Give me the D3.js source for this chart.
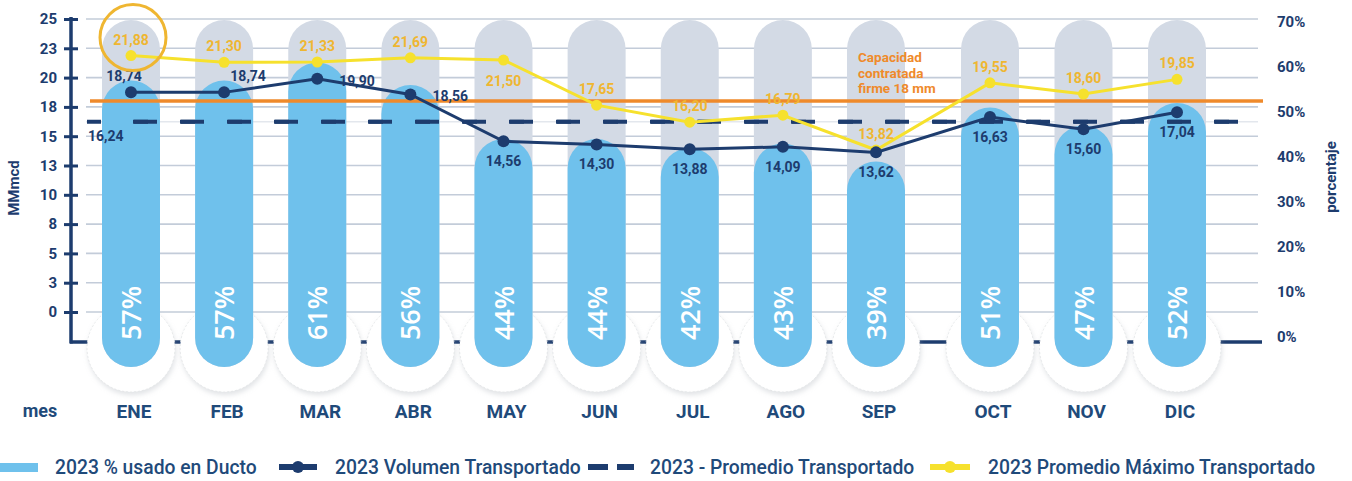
<!DOCTYPE html>
<html>
<head>
<meta charset="utf-8">
<script src="https://cdn.jsdelivr.net/npm/d3@7"></script>
<style>
body{margin:0;background:#fff;}
svg text{font-family:Roboto,"DejaVu Sans",sans-serif;}
</style>
</head>
<body>
<script>
//DATA
var months=["ENE","FEB","MAR","ABR","MAY","JUN","JUL","AGO","SEP","OCT","NOV","DIC"];
var usedPct=[57,57,61,56,44,44,42,43,39,51,47,52];
var volume=[18.74,18.74,19.90,18.56,14.56,14.30,13.88,14.09,13.62,16.63,15.60,17.04];
var maxVolume=[21.88,21.30,21.33,21.69,21.50,17.65,16.20,16.79,13.82,19.55,18.60,19.85];
var avgVolume=16.24;
var capacity=18;
var leftTicks=[0,2.5,5,7.5,10,12.5,15,17.5,20,22.5,25];
var leftTickLabels=["0","3","5","8","10","13","15","18","20","23","25"];
var rightTicks=[0,10,20,30,40,50,60,70];
var legendLabels=["2023 % usado en Ducto","2023 Volumen Transportado","2023 - Promedio Transportado","2023 Promedio Máximo Transportado"];

//label placement (t=above, b=below, r=right)
var volLabelSide=["tl","tr","r","r","b","b","b","b","b","b","b","b"];
var maxLabelSide=["t","t","t","t","b","t","t","t","t","t","t","t"];

var W=1352,H=481;
var navy="#1d3c6e", orange="#ef8a2b", yellow="#f6e12d", gold="#efb631", blue="#6fc1ec", grey="#d3dae5";

var svg=d3.select("body").append("svg").attr("width",W).attr("height",H);

var defs=svg.append("defs");
var f=defs.append("filter").attr("id","shadow").attr("x","-30%").attr("y","-30%").attr("width","160%").attr("height","160%");
f.append("feDropShadow").attr("dx",1).attr("dy",3).attr("stdDeviation",2.5).attr("flood-color","#aab1b8").attr("flood-opacity",0.35);

//SCALES
var x=d3.scaleLinear().domain([0,8,9,11]).range([131,876,990,1177]);
var yL=d3.scaleLinear().domain([0,25]).range([312,19]);
var yR=d3.scaleLinear().domain([0,70]).range([337,22]);
var barW=58, barBottom=367, axisY=342;

//GRIDLINES
svg.append("g").selectAll("line").data(leftTicks).enter().append("line")
	.attr("x1",86).attr("x2",1258)
	.attr("y1",function(d){return yL(d);}).attr("y2",function(d){return yL(d);})
	.attr("stroke","#c3ccd9").attr("stroke-width",1.6);
svg.append("line").attr("x1",86).attr("x2",1258).attr("y1",yL(avgVolume)).attr("y2",yL(avgVolume))
	.attr("stroke","#e3e7ed").attr("stroke-width",1.5);

//BOTTOM AXIS LINE
svg.append("line").attr("x1",70).attr("x2",1262).attr("y1",axisY).attr("y2",axisY)
	.attr("stroke",navy).attr("stroke-width",3.5);

//BUBBLES AT BAR FOOT
svg.append("g").selectAll("circle").data(months).enter().append("circle")
	.attr("cx",function(d,i){return x(i);}).attr("cy",348).attr("r",44)
	.attr("fill","#fff").attr("stroke","#e2e4e6").attr("stroke-width",0.8).attr("stroke-dasharray","2,2")
	.attr("filter","url(#shadow)");

//GREY PILLS
svg.append("g").selectAll("rect").data(months).enter().append("rect")
	.attr("x",function(d,i){return x(i)-barW/2;}).attr("y",20)
	.attr("width",barW).attr("height",barBottom-20).attr("rx",barW/2)
	.attr("fill",grey);

//BLUE BARS
svg.append("g").selectAll("rect").data(usedPct).enter().append("rect")
	.attr("x",function(d,i){return x(i)-barW/2;}).attr("y",function(d){return yR(d);})
	.attr("width",barW).attr("height",function(d){return barBottom-yR(d);}).attr("rx",barW/2)
	.attr("fill",blue);

svg.append("g").selectAll("text").data(usedPct).enter().append("text")
	.attr("transform",function(d,i){return "translate("+(x(i)+10)+",313) rotate(-90)";})
	.attr("text-anchor","middle")
	.style("font-family","'Open Sans',sans-serif").style("font-weight",600).style("font-size","27px")
	.attr("fill","#fff")
	.text(function(d){return d+"%";});

//AVERAGE DASHED LINE
svg.append("line").attr("x1",87).attr("x2",1258).attr("y1",yL(avgVolume)).attr("y2",yL(avgVolume))
	.attr("stroke",navy).attr("stroke-width",4).attr("stroke-dasharray","14,33");
svg.append("line").attr("x1",133).attr("x2",1258).attr("y1",yL(avgVolume)).attr("y2",yL(avgVolume))
	.attr("stroke",navy).attr("stroke-width",4).attr("stroke-dasharray","24,23");
svg.append("text").attr("x",88).attr("y",yL(avgVolume)+19)
	.style("font-weight",700).style("font-size","14px").attr("fill",navy)
	.text(d3.format(".2f")(avgVolume).replace(".",","));

//CAPACITY LINE
svg.append("line").attr("x1",90).attr("x2",1263).attr("y1",yL(capacity)).attr("y2",yL(capacity))
	.attr("stroke",orange).attr("stroke-width",3.5);
var cap=svg.append("text").style("font-weight",700).style("font-size","13.5px").attr("fill",orange);
cap.append("tspan").attr("x",858).attr("y",62).text("Capacidad");
cap.append("tspan").attr("x",858).attr("dy",15.5).text("contratada");
cap.append("tspan").attr("x",858).attr("dy",15.5).text("firme "+capacity+" mm");

//LINES
var line=d3.line().x(function(d,i){return x(i);}).y(function(d){return yL(d);});

svg.append("path").datum(maxVolume).attr("d",line).attr("fill","none")
	.attr("stroke",yellow).attr("stroke-width",3);
svg.append("g").selectAll("circle").data(maxVolume).enter().append("circle")
	.attr("cx",function(d,i){return x(i);}).attr("cy",function(d){return yL(d);}).attr("r",5.5)
	.attr("fill",yellow);

svg.append("path").datum(volume).attr("d",line).attr("fill","none")
	.attr("stroke",navy).attr("stroke-width",3);
svg.append("g").selectAll("circle").data(volume).enter().append("circle")
	.attr("cx",function(d,i){return x(i);}).attr("cy",function(d){return yL(d);}).attr("r",6)
	.attr("fill",navy);

var fmt=function(v){return d3.format(".2f")(v).replace(".",",");};

//VALUE LABELS
svg.append("g").selectAll("text").data(maxVolume).enter().append("text")
	.attr("x",function(d,i){return x(i);})
	.attr("y",function(d,i){return maxLabelSide[i]=="t"?yL(d)-11:yL(d)+26;})
	.attr("text-anchor","middle")
	.style("font-weight",700).style("font-size","14px").attr("fill",gold)
	.text(fmt);

svg.append("g").selectAll("text").data(volume).enter().append("text")
	.attr("x",function(d,i){
		var s=volLabelSide[i];
		if(s=="tl")return x(i)-7;
		if(s=="tr")return x(i)+24;
		if(s=="r")return x(i)+22;
		return x(i);})
	.attr("y",function(d,i){
		var s=volLabelSide[i];
		if(s=="tl"||s=="tr")return yL(d)-11;
		if(s=="r")return yL(d)+7;
		return yL(d)+25;})
	.attr("text-anchor",function(d,i){return volLabelSide[i]=="r"?"start":"middle";})
	.style("font-weight",700).style("font-size","14px").attr("fill",navy)
	.text(fmt);

//HIGHLIGHT CIRCLE
svg.append("circle").attr("cx",x(0)+2).attr("cy",yL(maxVolume[0])-18).attr("r",33)
	.attr("fill","none").attr("stroke",gold).attr("stroke-width",3);

//LEFT AXIS
var gl=svg.append("g").attr("transform","translate(71,0)")
	.call(d3.axisLeft(yL).tickValues(leftTicks).tickSize(7)
		.tickFormat(function(d,i){return leftTickLabels[i];}));
gl.select(".domain").remove();
gl.selectAll(".tick line").attr("x1",-7).attr("x2",7).attr("stroke",navy).attr("stroke-width",3);
gl.selectAll(".tick text").attr("x",-14)
	.style("font-family","Roboto,sans-serif").style("font-weight",700).style("font-size","15px").attr("fill",navy);
svg.append("line").attr("x1",71).attr("x2",71).attr("y1",17).attr("y2",axisY+1.5)
	.attr("stroke",navy).attr("stroke-width",3.5);
svg.append("text").attr("transform","translate(19,188) rotate(-90)").attr("text-anchor","middle")
	.style("font-weight",700).style("font-size","15px").attr("fill",navy).text("MMmcd");

//RIGHT AXIS
var gr=svg.append("g").attr("transform","translate(1275,0)")
	.call(d3.axisRight(yR).tickValues(rightTicks).tickSize(0)
		.tickFormat(function(d){return d+"%";}));
gr.select(".domain").remove();
gr.selectAll(".tick text").attr("x",2)
	.style("font-family","Roboto,sans-serif").style("font-weight",700).style("font-size","15px").attr("fill",navy);
svg.append("text").attr("transform","translate(1336,177) rotate(-90)").attr("text-anchor","middle")
	.style("font-weight",700).style("font-size","15px").attr("fill",navy).text("porcentaje");

//MONTH LABELS
svg.append("g").selectAll("text").data(months).enter().append("text")
	.attr("x",function(d,i){return x(i)+3;}).attr("y",418)
	.attr("text-anchor","middle")
	.style("font-weight",700).style("font-size","19px").attr("fill","#1f4a7a")
	.text(function(d){return d;});
svg.append("text").attr("x",40).attr("y",417).attr("text-anchor","middle")
	.style("font-weight",700).style("font-size","18px").attr("fill","#1f4a7a").text("mes");

//LEGEND
var lg=svg.append("g").attr("transform","translate(0,467)");
lg.append("rect").attr("x",0).attr("y",-4).attr("width",38).attr("height",9).attr("fill",blue);
lg.append("line").attr("x1",279).attr("x2",317).attr("y1",0).attr("y2",0).attr("stroke",navy).attr("stroke-width",6);
lg.append("circle").attr("cx",298).attr("cy",0).attr("r",6).attr("fill",navy);
lg.append("line").attr("x1",588).attr("x2",634).attr("y1",0).attr("y2",0).attr("stroke",navy).attr("stroke-width",6).attr("stroke-dasharray","20,9");
lg.append("line").attr("x1",930).attr("x2",970).attr("y1",0).attr("y2",0).attr("stroke",yellow).attr("stroke-width",6);
lg.append("circle").attr("cx",950).attr("cy",0).attr("r",6).attr("fill",yellow);
var legX=[55,335,650,988];
lg.selectAll("text.lab").data(legendLabels).enter().append("text").attr("class","lab")
	.attr("x",function(d,i){return legX[i];}).attr("y",7)
	.style("font-weight",500).style("font-size","19.3px").attr("fill","#1f4a7a")
	.text(function(d){return d;});
</script>
</body>
</html>
